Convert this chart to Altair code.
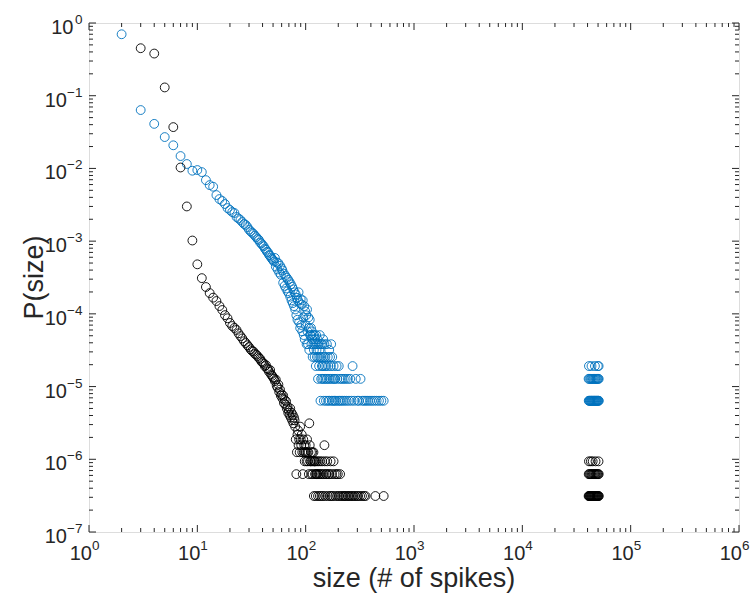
import altair as alt
import pandas as pd

# ---------------- data ----------------
N_BLACK = 3.2e6      # total events, black series (1 event -> 3.1e-7)
N_BLUE = 1.567e5     # total events, blue series (1 event -> 6.4e-6)

black_head_size = [3, 4, 5, 6, 7, 8, 9, 10, 11, 12, 13, 14, 15, 16, 17, 18, 19, 20,
                   21, 22, 23, 24, 25, 26, 27, 28, 29, 30]
black_head_p = [0.45, 0.38, 0.13, 0.037, 0.0103, 0.0030, 0.00102, 0.00048, 3.10e-4,
                2.34e-4, 1.93e-4, 1.67e-4, 1.50e-4, 1.28e-4, 1.13e-4, 9.6e-5, 8.7e-5,
                7.5e-5, 6.8e-5, 6.4e-5, 6.0e-5, 5.4e-5, 4.95e-5, 4.6e-5, 4.2e-5,
                3.97e-5, 3.7e-5, 3.5e-5]

black_body_size = [31, 32, 33, 34, 35, 36, 37, 38, 39, 40, 41, 42, 43, 44, 45, 46, 47, 48,
                   49, 50, 51, 52, 53, 54, 55, 56, 57, 58, 59, 60, 61, 62, 63, 64, 65, 66,
                   67, 68, 69, 70, 71, 72, 73, 74, 75, 76, 77, 78, 79, 80, 81, 82, 83, 84,
                   85, 86, 87, 88, 89, 90, 91, 92, 93, 94, 95, 96, 97, 98, 99, 100, 101,
                   102, 103, 104, 105, 106, 107, 108, 109, 110,
                   111, 112, 113, 114, 115, 116, 117, 118, 119, 120, 121, 122, 123, 124,
                   125, 126, 127, 128, 130, 131, 132, 134, 135, 136, 138, 140, 142, 143,
                   145, 147, 149, 150, 152, 154, 156, 158, 160, 163, 166, 168, 170, 173,
                   175, 178, 181, 185, 188, 192, 196, 198, 203, 208, 212, 219, 224, 231,
                   238, 245, 252, 260, 268, 277, 286, 296, 305, 318, 331, 346, 357, 440, 525]
black_body_count = [104, 99, 97, 90, 88, 84, 79, 77, 71, 69,
                    66, 61, 63, 57, 55, 51, 54, 47, 45, 43,
                    41, 38, 40, 33, 31, 34, 27, 29, 24, 25,
                    22, 24, 19, 21, 18, 20, 16, 17, 14, 15,
                    13, 16, 12, 14, 11, 13, 10, 12, 11, 9,
                    6, 2, 4, 7, 8, 5, 6, 4, 9, 6,
                    5, 7, 4, 2, 6, 4, 5, 3, 4, 5,
                    4, 3, 6, 4, 3, 4, 2, 10, 5, 3,
                    3, 4, 2, 3, 4, 2, 3, 4, 1, 3, 3, 2, 3, 1,
                    2, 2, 3, 2, 1, 3, 2, 2, 1, 3, 2, 1, 3, 2,
                    1, 2, 5, 3, 1, 2, 2, 3, 1, 2, 2, 1, 3, 1,
                    2, 1, 3, 2, 1, 2, 1, 2, 1, 2, 1, 1, 1, 1,
                    1, 1, 1, 1, 1, 1, 1, 1, 1, 1, 1, 1, 1, 1, 1]

black_big_size = [40900, 41300, 41800, 42200, 42700, 43100, 43600, 44000, 44500, 45000,
                  45400, 45900, 46400, 46800, 47300, 47800, 48300, 48800, 49300, 49800,
                  50300, 50800,
                  41000, 41700, 42400, 43200, 43900, 44700, 45500, 46200, 47000, 47700,
                  48500, 49200, 50100, 50700,
                  41200, 42900, 44600, 47400, 50500]
black_big_count = [1] * 22 + [2] * 14 + [3] * 5

blue_head_size = [2, 3, 4, 5, 6, 7, 8, 9, 10, 11, 12, 13, 14, 15, 16, 17, 18, 19, 20,
                  21, 22, 23, 24, 25, 26, 27, 28, 29, 30]
blue_head_p = [0.70, 0.0635, 0.041, 0.027, 0.0208, 0.0148, 0.0115, 0.0093, 0.0095,
               0.0089, 0.0069, 0.0059, 0.0056, 0.0043, 3.79e-3, 3.56e-3, 3.24e-3,
               2.85e-3, 2.68e-3, 2.51e-3, 2.44e-3, 2.15e-3, 2.05e-3, 1.95e-3, 1.83e-3,
               1.72e-3, 1.67e-3, 1.56e-3, 1.44e-3]

blue_body_size = [31, 32, 33, 34, 35, 36, 37, 38, 39, 40, 41, 42, 43, 44, 45, 46, 47, 48,
                  49, 50, 51, 52, 53, 54, 55, 56, 57, 58, 59, 60, 61, 62, 63, 64, 65, 66,
                  67, 68, 69, 70, 71, 72, 73, 74, 75, 76, 77, 78, 79, 80, 81, 82, 83, 84,
                  85, 86, 87, 88, 89, 90, 91, 92, 93, 94, 95, 96, 97, 98, 99, 100, 101,
                  102, 103, 104, 105, 106, 107, 108, 109, 110,
                  111, 112, 113, 114, 115, 116, 117, 118, 119, 120, 121, 122, 123, 124,
                  125, 126, 127, 128, 129, 130, 131, 132, 133, 134, 135, 136, 137, 138,
                  139, 140, 141, 142, 143, 144, 145, 146, 147, 148, 149, 150, 152, 153,
                  154, 155, 157, 158, 160, 161, 162, 164, 165, 166, 168, 170, 171, 172,
                  174, 176, 177, 179, 181, 183, 185, 187, 190, 193, 196, 199, 202, 205,
                  208, 212, 216, 220, 225, 229, 234, 239, 245, 251, 258, 265, 271, 280,
                  290, 300, 310, 321, 333, 346, 360, 375, 392, 410, 430, 452, 475, 500, 525]
blue_body_count = [214, 205, 197, 186, 178, 168, 163, 150, 146, 138,
                   133, 124, 119, 112, 109, 101, 99, 93, 89, 86,
                   82, 92, 70, 80, 64, 78, 58, 72, 54, 66,
                   62, 42, 56, 38, 52, 35, 49, 32, 46, 30,
                   43, 27, 40, 24, 37, 22, 34, 20, 31, 18,
                   29, 15, 26, 13, 24, 31, 12, 22, 10, 25,
                   11, 21, 9, 24, 14, 8, 20, 7, 17, 11,
                   15, 6, 18, 9, 6, 14, 10, 5, 13, 8,
                   8, 10, 6, 9, 7, 4, 8, 6, 5, 8, 4, 7, 6, 3,
                   8, 5, 4, 6, 7, 2, 4, 6, 3, 5, 8, 4, 1, 6,
                   2, 4, 3, 6, 2, 3, 7, 4, 1, 2, 6, 3, 4, 2,
                   1, 3, 6, 2, 4, 1, 3, 2, 5, 1, 4, 2, 3, 6,
                   1, 4, 2, 1, 3, 2, 1, 2, 1, 3, 2, 1, 3, 1,
                   2, 1, 2, 1, 2, 1, 2, 1, 2, 1, 2, 1, 3, 1,
                   2, 1, 1, 2, 1, 1, 1, 1, 1, 1, 1, 1, 1, 1, 1]

blue_big_size = [41000, 41400, 41900, 42300, 42800, 43300, 43700, 44200, 44700, 45100,
                 45600, 46100, 46500, 47000, 47500, 48000, 48400, 48900, 49400, 49900,
                 50400, 50800,
                 40900, 41600, 42500, 43200, 44000, 44800, 45500, 46300, 47100, 47800,
                 48600, 49300, 50100, 50700,
                 41200, 43500, 46800, 49700, 50600]
blue_big_count = [1] * 22 + [2] * 14 + [3] * 5

x_major = [1, 10, 100, 1e3, 1e4, 1e5, 1e6]
x_exp = ["0", "1", "2", "3", "4", "5", "6"]
y_major = [1e-7, 1e-6, 1e-5, 1e-4, 1e-3, 1e-2, 1e-1, 1]
y_exp = ["\u22127", "\u22126", "\u22125", "\u22124", "\u22123", "\u22122", "\u22121", "0"]
minor_mult = [2, 3, 4, 5, 6, 7, 8, 9]

# ---------------- tables ----------------
rows = []
for s, p in zip(blue_head_size, blue_head_p):
    rows.append(("blue", s, p))
for s, c in zip(blue_body_size, blue_body_count):
    rows.append(("blue", s, c / N_BLUE))
for s, c in zip(blue_big_size, blue_big_count):
    rows.append(("blue", s, c / N_BLUE))
for s, p in zip(black_head_size, black_head_p):
    rows.append(("black", s, p))
for s, c in zip(black_body_size, black_body_count):
    rows.append(("black", s, c / N_BLACK))
for s, c in zip(black_big_size, black_big_count):
    rows.append(("black", s, c / N_BLACK))
df = pd.DataFrame(rows, columns=["series", "size", "p"])

x_minor = [m * d for d in x_major[:-1] for m in minor_mult]
y_minor = [m * d for d in y_major[:-1] for m in minor_mult]
xt_major = pd.DataFrame({"v": x_major, "e": x_exp, "b": ["10"] * len(x_major)})
yt_major = pd.DataFrame({"v": y_major, "e": y_exp, "b": ["10"] * len(y_major)})
xt_minor = pd.DataFrame({"v": x_minor})
yt_minor = pd.DataFrame({"v": y_minor})

# ---------------- chart ----------------
W, H = 650, 509
FONT = "Liberation Sans"
AX = "#262626"
FS_BASE, FS_EXP, FS_TITLE = 20, 13.5, 27
xs = alt.Scale(type="log", domain=[1, 1e6], nice=False)
ys = alt.Scale(type="log", domain=[1e-7, 1], nice=False)
X = lambda f: alt.X(f, type="quantitative", scale=xs, axis=None)
Y = lambda f: alt.Y(f, type="quantitative", scale=ys, axis=None)

pts = alt.Chart(df).mark_point(
    shape="circle", filled=False, size=78, strokeWidth=0.9, opacity=1
).encode(
    x=X("size"), y=Y("p"),
    color=alt.Color("series:N", scale=alt.Scale(domain=["blue", "black"],
                                                range=["#0072BD", "#000000"]), legend=None),
    order=alt.Order("series:N", sort="descending"),
)

def xticks(data, ln):
    b = alt.Chart(data).mark_rule(color=AX, strokeWidth=1)
    return [b.encode(x=X("v"), y=alt.value(H), y2=alt.value(H - ln)),
            b.encode(x=X("v"), y=alt.value(0), y2=alt.value(ln))]

def yticks(data, ln):
    b = alt.Chart(data).mark_rule(color=AX, strokeWidth=1)
    return [b.encode(y=Y("v"), x=alt.value(0), x2=alt.value(ln)),
            b.encode(y=Y("v"), x=alt.value(W), x2=alt.value(W - ln))]

ticks = xticks(xt_major, 7) + xticks(xt_minor, 4) + yticks(yt_major, 7) + yticks(yt_minor, 4)

# x tick labels: "10" + superscript exponent
xl_base = alt.Chart(xt_major).mark_text(
    align="right", baseline="alphabetic", font=FONT, fontSize=FS_BASE, color=AX, dx=3
).encode(x=X("v"), y=alt.value(H + 28), text="b:N")
xl_exp = alt.Chart(xt_major).mark_text(
    align="left", baseline="alphabetic", font=FONT, fontSize=FS_EXP, color=AX, dx=3
).encode(x=X("v"), y=alt.value(H + 18), text="e:N")

# y tick labels
yl_exp = alt.Chart(yt_major).mark_text(
    align="right", baseline="alphabetic", font=FONT, fontSize=FS_EXP, color=AX, dy=1
).encode(x=alt.value(-6.5), y=Y("v"), text="e:N")
yl_base_neg = alt.Chart(yt_major).transform_filter("datum.v < 0.5").mark_text(
    align="right", baseline="alphabetic", font=FONT, fontSize=FS_BASE, color=AX, dy=11
).encode(x=alt.value(-22), y=Y("v"), text="b:N")
yl_base_zero = alt.Chart(yt_major).transform_filter("datum.v > 0.5").mark_text(
    align="right", baseline="alphabetic", font=FONT, fontSize=FS_BASE, color=AX, dy=11
).encode(x=alt.value(-15.5), y=Y("v"), text="b:N")

xtitle = alt.Chart(pd.DataFrame({"t": ["size (# of spikes)"]})).mark_text(
    align="center", baseline="middle", font=FONT, fontSize=FS_TITLE, color=AX
).encode(x=alt.value(W / 2), y=alt.value(H + 47), text="t:N")
ytitle = alt.Chart(pd.DataFrame({"t": ["P(size)"]})).mark_text(
    align="center", baseline="middle", font=FONT, fontSize=FS_TITLE, color=AX, angle=270
).encode(x=alt.value(-54), y=alt.value(H / 2), text="t:N")

chart = alt.layer(
    pts, *ticks, xl_base, xl_exp, yl_exp, yl_base_neg, yl_base_zero, xtitle, ytitle
).properties(
    width=W, height=H,
    autosize=alt.AutoSizeParams(type="none"),
    padding={"left": 89, "top": 23, "right": 12, "bottom": 65},
).configure_view(stroke=AX, strokeWidth=1).configure(background="white")

chart.save("out.html", embed_options={"renderer": "svg", "actions": False})
